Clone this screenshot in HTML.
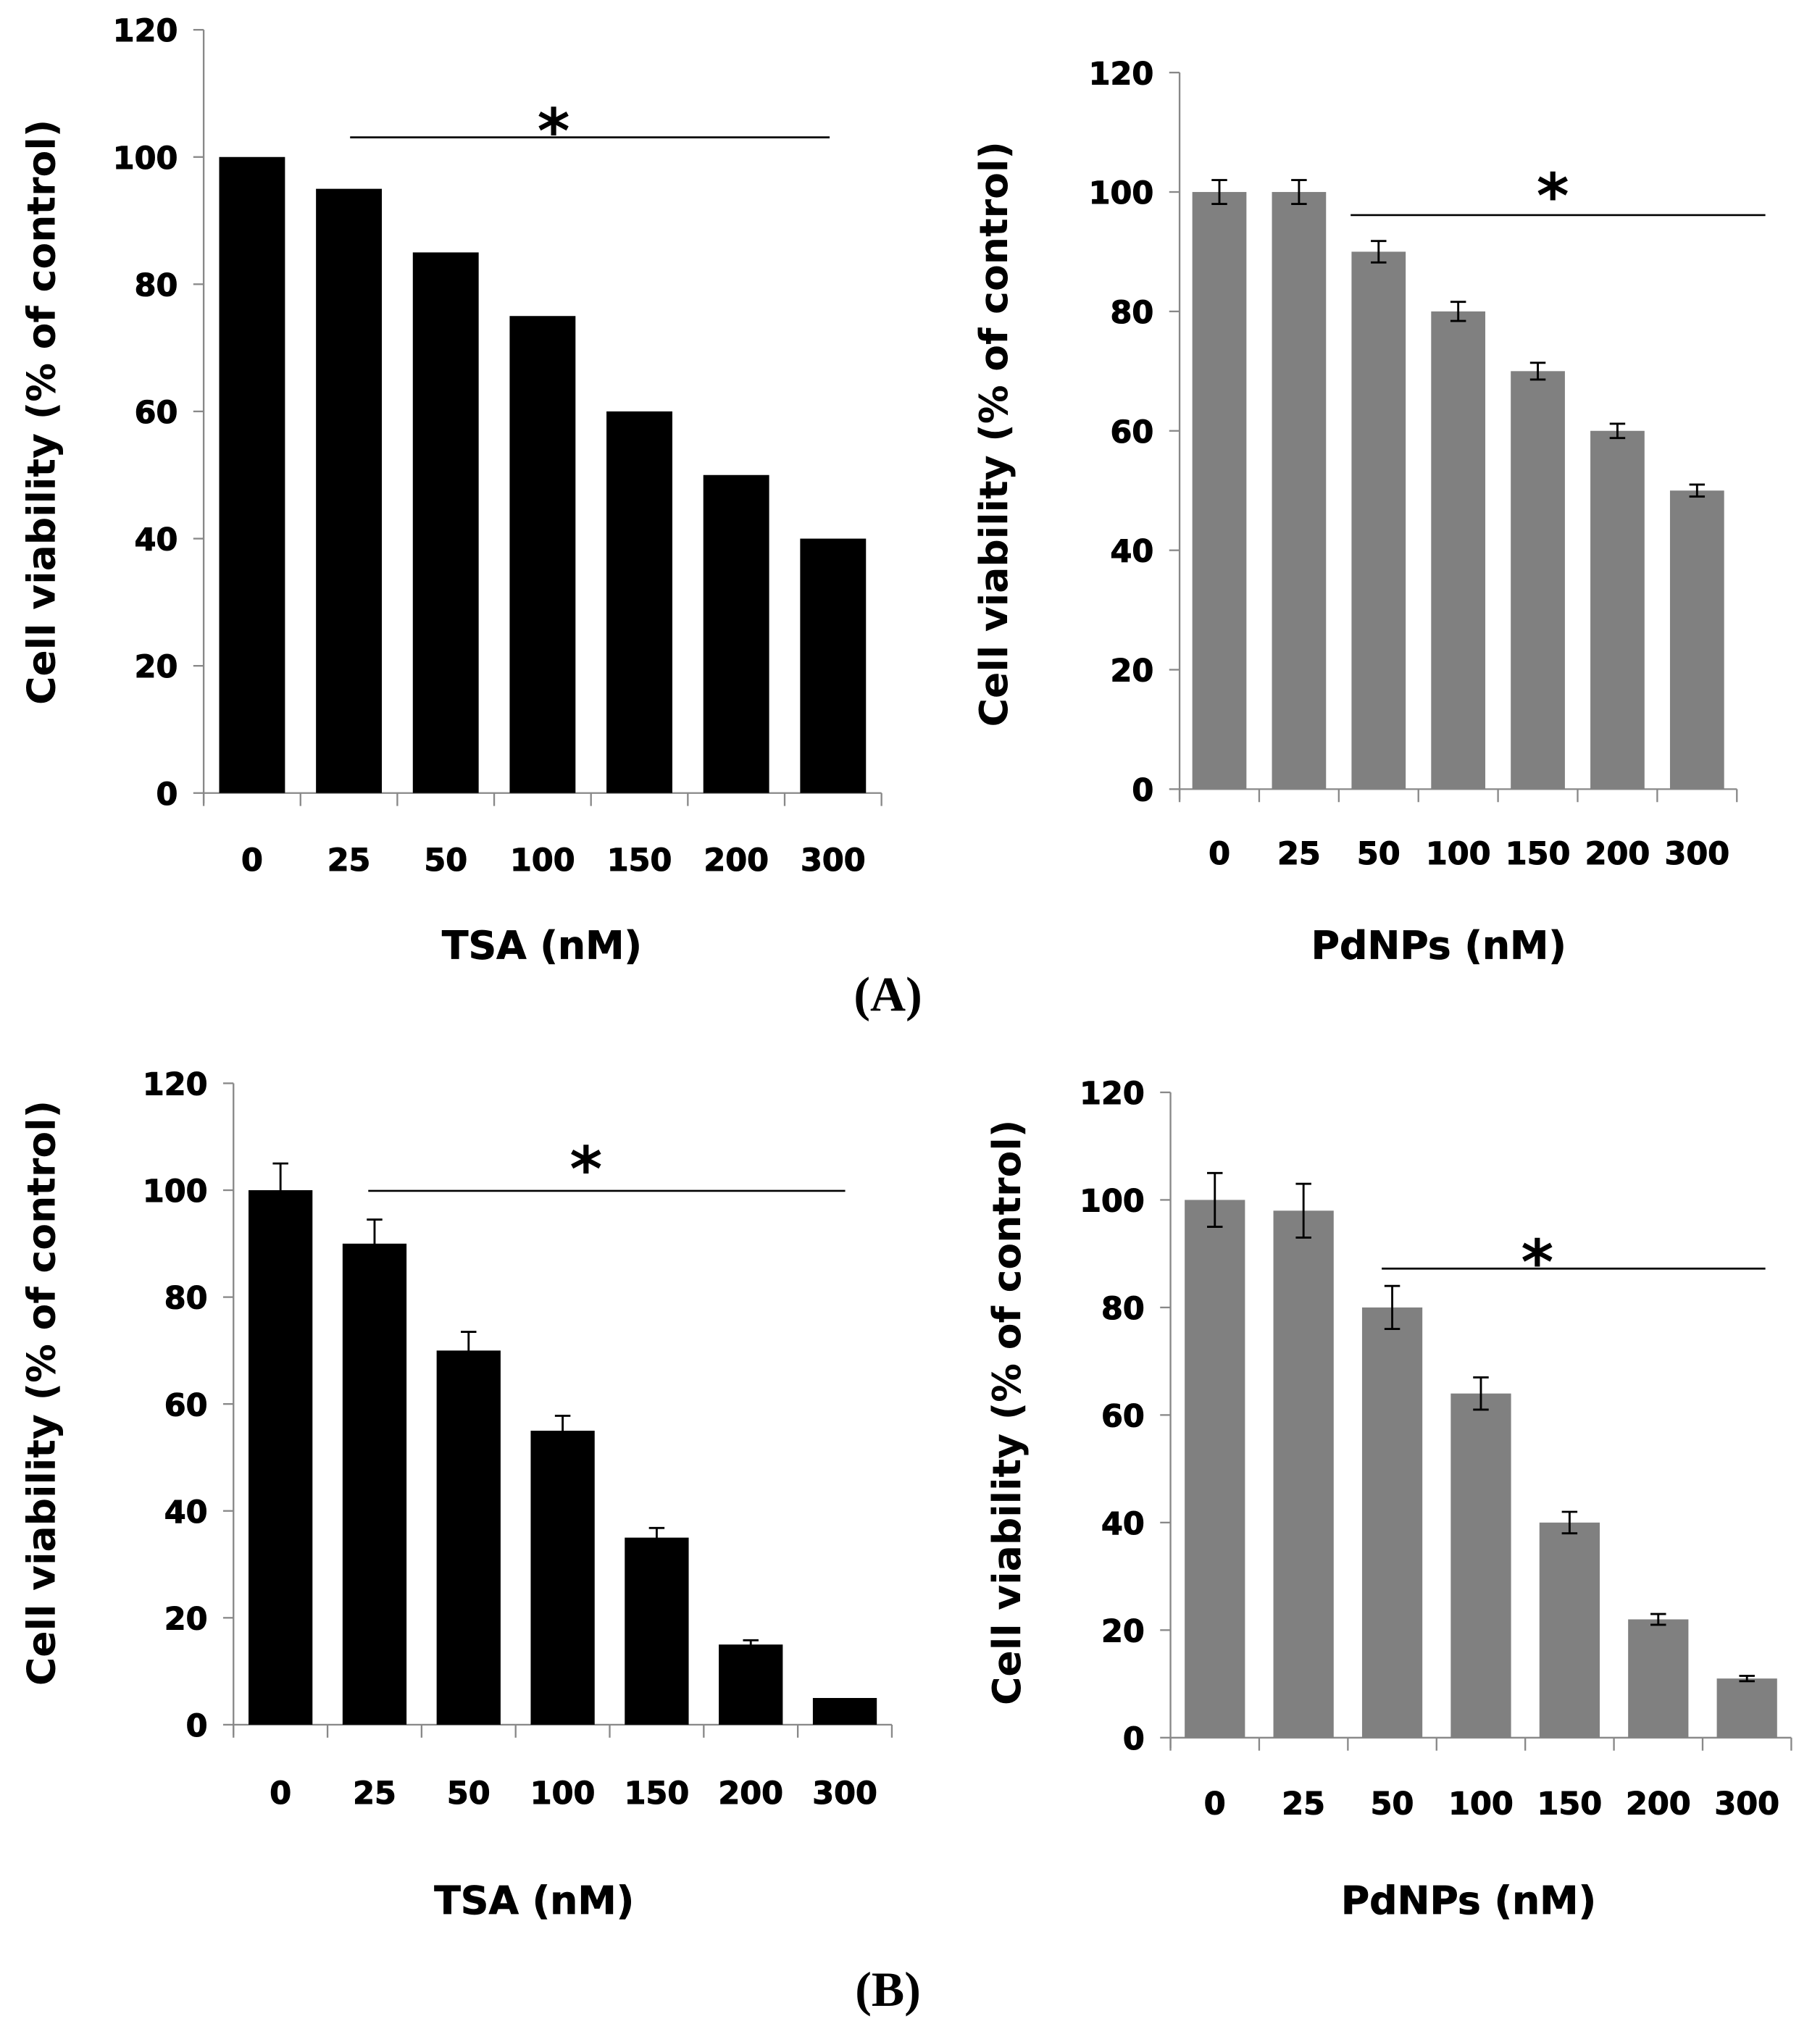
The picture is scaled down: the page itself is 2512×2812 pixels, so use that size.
<!DOCTYPE html>
<html><head><meta charset="utf-8"><style>
html,body{margin:0;padding:0;background:#fff}
svg{display:block}
text{font-family:"DejaVu Sans","Liberation Sans",sans-serif;font-weight:bold;fill:#000}
</style></head><body>
<svg id="fig" width="2512" height="2812" viewBox="0 0 1404 1572" xmlns="http://www.w3.org/2000/svg">
<text x="685" y="780" text-anchor="middle" style="font-family:'Liberation Serif',serif;font-size:38px">(A)</text>
<text x="685" y="1548" text-anchor="middle" style="font-family:'Liberation Serif',serif;font-size:38px">(B)</text>
</svg>
<script>
const categories = ["0","25","50","100","150","200","300"];
const yTicks = [0,20,40,60,80,100,120];
const aLeftValues = [100,95,85,75,60,50,40];
const aLeftErrors = [0,0,0,0,0,0,0];
const aRightValues = [100,100,90,80,70,60,50];
const aRightErrors = [2,2,1.8,1.6,1.4,1.2,1];
const bLeftValues = [100,90,70,55,35,15,5];
const bLeftErrors = [5,4.5,3.5,2.8,1.8,0.8,0];
const bRightValues = [100,98,80,64,40,22,11];
const bRightErrors = [5,5,4,3,2,1,0.5];

const NS="http://www.w3.org/2000/svg";
const svg=document.getElementById('fig');
function mk(tag,attrs,parent){const e=document.createElementNS(NS,tag);for(const k in attrs)e.setAttribute(k,attrs[k]);(parent||svg).appendChild(e);return e;}

function chart(cfg,values,errors){
  const g=mk('g',{});
  
  
  const y=v=>cfg.y0-(v/120)*(cfg.y0-cfg.y120);
  const step=(cfg.x1-cfg.x0)/categories.length;
  const x=i=>cfg.x0+step*(i+0.5);
  const ax=mk('line',{x1:cfg.x0,y1:cfg.y120,x2:cfg.x0,y2:cfg.y0+8,stroke:'#888','stroke-width':1.3},g);
  
  
  yTicks.forEach(t=>{
    mk('line',{x1:cfg.x0-8,y1:y(t),x2:cfg.x0,y2:y(t),stroke:'#888','stroke-width':1.3},g);
    const tx=mk('text',{x:cfg.x0-20,y:y(t)+9,'text-anchor':'end','font-size':24,'stroke':'#000','stroke-width':0.6},g);
    tx.textContent=t;
    
    
  });
  const xa=mk('line',{x1:cfg.x0,y1:cfg.y0,x2:cfg.x1,y2:cfg.y0,stroke:'#888','stroke-width':1.3},g);
  
  
  for(let i=0;i<=categories.length;i++){
    mk('line',{x1:cfg.x0+step*i,y1:cfg.y0,x2:cfg.x0+step*i,y2:cfg.y0+10,stroke:'#888','stroke-width':1.3},g);
  }
  values.forEach((v,i)=>{
    const w=step*0.68;
    const r=mk('rect',{x:x(i)-w/2,y:y(v),width:w,height:cfg.y0-y(v),fill:cfg.color},g);
    
    
    const e=errors[i];
    if(e>0){
      const eb=mk('path',{d:`M${x(i)-6},${y(v+e)}H${x(i)+6}M${x(i)},${y(v+e)}V${y(v-e)}M${x(i)-6},${y(v-e)}H${x(i)+6}`,stroke:'#000','stroke-width':1.6,fill:'none'},g);
      
      
    }
    const tl=mk('text',{x:x(i),y:cfg.labelY,'text-anchor':'middle','font-size':24,'stroke':'#000','stroke-width':0.6},g);
    tl.textContent=categories[i];
    
    
  });
  const xt=mk('text',{x:cfg.xtX,y:cfg.xtY,'text-anchor':'middle','font-size':30,'stroke':'#000','stroke-width':0.4},g);
  xt.textContent=cfg.xTitle;
  
  
  const yt=mk('text',{x:0,y:0,'text-anchor':'middle','font-size':30,transform:`translate(${cfg.ytX},${cfg.ytY}) rotate(-90)`},g);
  yt.textContent='Cell viability (% of control)';
  
  
  const sl=mk('line',{x1:cfg.sig[0],y1:cfg.sig[2],x2:cfg.sig[1],y2:cfg.sig[2],stroke:'#000','stroke-width':1.5},g);
  
  
  const st=mk('text',{x:cfg.star[0],y:cfg.star[1]+26,'text-anchor':'middle','font-size':48},g);
  st.textContent='*';
  
  
}
chart({name:'chart-a-tsa',x0:157,x1:680,y0:612,y120:23,color:'#000',labelY:672,xTitle:'TSA (nM)',xtX:418,xtY:740,ytX:42,ytY:318,sig:[270,640,106],star:[427,92]},aLeftValues,aLeftErrors);
chart({name:'chart-a-pdnps',x0:910,x1:1340,y0:609,y120:56,color:'#808080',labelY:667,xTitle:'PdNPs (nM)',xtX:1110,xtY:740,ytX:777,ytY:335,sig:[1042,1362,166],star:[1198,142]},aRightValues,aRightErrors);
chart({name:'chart-b-tsa',x0:180,x1:688,y0:1331,y120:836,color:'#000',labelY:1392,xTitle:'TSA (nM)',xtX:412,xtY:1477,ytX:42,ytY:1075,sig:[284,652,919],star:[452,893]},bLeftValues,bLeftErrors);
chart({name:'chart-b-pdnps',x0:903,x1:1382,y0:1341,y120:843,color:'#808080',labelY:1400,xTitle:'PdNPs (nM)',xtX:1133,xtY:1477,ytX:787,ytY:1090,sig:[1066,1362,979],star:[1186,965]},bRightValues,bRightErrors);
</script>
</body></html>
